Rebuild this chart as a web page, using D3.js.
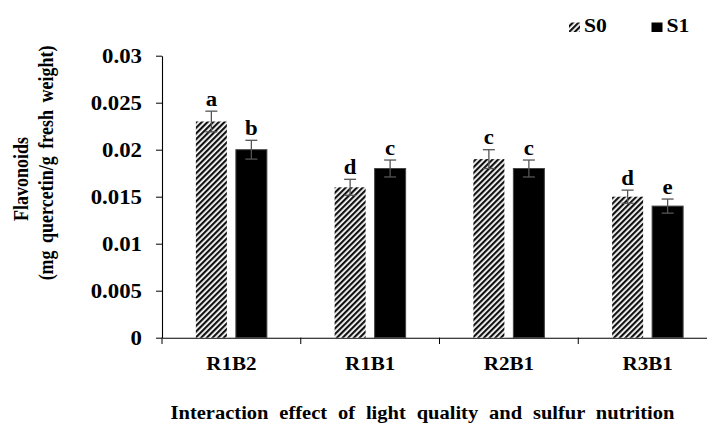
<!DOCTYPE html>
<html><head><meta charset="utf-8">
<script src="https://cdn.jsdelivr.net/npm/d3@7"></script>
<style>body{margin:0;background:#fff}svg{display:block}text{font-family:"Liberation Serif","Times New Roman",serif;font-weight:bold;fill:#000}</style>
</head><body>
<script>
const categories = ["R1B2","R1B1","R2B1","R3B1"];
const seriesNames = ["S0","S1"];
const s0Values = [0.023,0.016,0.019,0.015];
const s1Values = [0.020,0.018,0.018,0.014];
const s0Errors = [0.0011,0.00085,0.001,0.0007];
const s1Errors = [0.001,0.0009,0.0009,0.00075];
const s0Letters = ["a","d","c","d"];
const s1Letters = ["b","c","c","e"];
const yTicks = [0,0.005,0.01,0.015,0.02,0.025,0.03];
const yTickLabels = ["0","0.005","0.01","0.015","0.02","0.025","0.03"];

const W=707,H=424;
const svg=d3.select("body").append("svg").attr("width",W).attr("height",H);
const defs=svg.append("defs");
const pat=defs.append("pattern").attr("id","hatch").attr("patternUnits","userSpaceOnUse")
  .attr("width",4).attr("height",4).attr("patternTransform","rotate(45)");
pat.append("rect").attr("width",4).attr("height",4).attr("fill","#fff");
pat.append("rect").attr("x",0).attr("width",2.2).attr("height",4).attr("fill","#111");

const x=d3.scaleBand().domain(categories).range([162,717]).padding(0);
const y=d3.scaleLinear().domain([0,0.03]).range([337.7,55.7]);
const barW=31, gap=9;
const SX=1.14; // horizontal stretch of the reference text

const yAxis=svg.append("g").attr("transform","translate(162,0)")
  .call(d3.axisLeft(y).tickValues(yTicks).tickFormat((d,i)=>yTickLabels[i]).tickSize(6).tickSizeOuter(0));
yAxis.select(".domain").attr("stroke","#000").attr("stroke-width",1.1);
yAxis.selectAll(".tick line").attr("stroke","#000");
yAxis.selectAll(".tick text").each(function(){
  const t=d3.select(this);
  t.attr("x",0).attr("dy","0.33em").attr("font-size",20).attr("fill","#000")
   .style("font-family","'Liberation Serif',serif").style("font-weight","bold")
   .attr("transform",`translate(-20,0) scale(${SX},1)`);
});

const xAxis=svg.append("g").attr("transform","translate(0,337.7)")
  .call(d3.axisBottom(x).tickSize(0).tickSizeOuter(0));
xAxis.select(".domain").attr("stroke","#000").attr("stroke-width",1.1);
xAxis.selectAll(".tick text").each(function(){
  const t=d3.select(this);
  t.attr("y",0).attr("dy",0).attr("font-size",18.5).attr("fill","#000")
   .style("font-family","'Liberation Serif',serif").style("font-weight","bold")
   .attr("transform",`translate(0,32.3) scale(${SX},1)`);
});
const bounds=categories.map(c=>x(c));
svg.append("g").selectAll("line").data(bounds).join("line")
  .attr("x1",d=>d).attr("x2",d=>d).attr("y1",337.7).attr("y2",344).attr("stroke","#000");

const data=categories.map((c,i)=>[
  {c,s:0,v:s0Values[i],e:s0Errors[i],l:s0Letters[i]},
  {c,s:1,v:s1Values[i],e:s1Errors[i],l:s1Letters[i]}]).flat();
const bx=d=>x(d.c)+x.bandwidth()/2+(d.s===0?-(gap/2+barW):gap/2);

svg.append("g").selectAll("rect").data(data).join("rect")
  .attr("x",bx).attr("width",barW).attr("y",d=>y(d.v)).attr("height",d=>y(0)-y(d.v))
  .attr("fill",d=>d.s===0?"url(#hatch)":"#000").attr("stroke",d=>d.s===0?"none":"#444").attr("stroke-width",1);

const eb=svg.append("g").attr("stroke","#555").attr("stroke-width",1.3);
data.forEach(d=>{
  const cx=bx(d)+barW/2;
  eb.append("line").attr("x1",cx).attr("x2",cx).attr("y1",y(d.v+d.e)).attr("y2",y(d.v-d.e));
  eb.append("line").attr("x1",cx-6).attr("x2",cx+6).attr("y1",y(d.v+d.e)).attr("y2",y(d.v+d.e));
  eb.append("line").attr("x1",cx-6).attr("x2",cx+6).attr("y1",y(d.v-d.e)).attr("y2",y(d.v-d.e));
});
svg.append("g").selectAll("text").data(data).join("text")
  .attr("transform",d=>`translate(${bx(d)+barW/2},${y(d.v+d.e)-5.5}) scale(${SX},1)`)
  .attr("text-anchor","middle").attr("font-size",20).text(d=>d.l);

// legend
const lg=svg.append("g");
const legX=[569,651.5];
seriesNames.forEach((n,i)=>{
  lg.append("rect").attr("x",legX[i]).attr("y",22.5).attr("width",11).attr("height",9.5)
    .attr("fill",i===0?"url(#hatch)":"#000");
  lg.append("text").attr("transform",`translate(${legX[i]+15},32) scale(${SX},1)`).attr("font-size",19).text(n);
});

// axis titles
svg.append("text").attr("transform",`translate(28,179) rotate(-90) scale(1,${SX})`).attr("text-anchor","middle")
  .attr("font-size",18).text("Flavonoids");
svg.append("text").attr("transform",`translate(52.5,163) rotate(-90) scale(1,${SX})`).attr("text-anchor","middle")
  .attr("font-size",18).attr("word-spacing",3).text("(mg quercetin/g fresh weight)");
svg.append("text").attr("transform",`translate(422.5,419) scale(${SX},1)`).attr("text-anchor","middle")
  .attr("font-size",18).attr("word-spacing",5).text("Interaction effect of light quality and sulfur nutrition");
</script>
</body></html>
